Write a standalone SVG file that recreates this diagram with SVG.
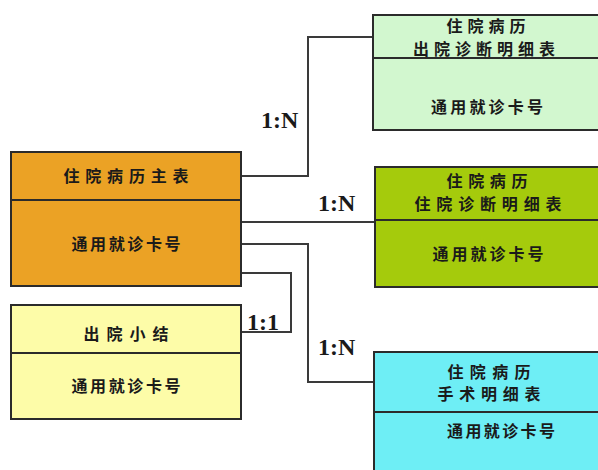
<svg xmlns="http://www.w3.org/2000/svg" width="598" height="470" viewBox="0 0 598 470">
<style>
.box{stroke:#2b2b2b;stroke-width:2}
.div{stroke:#2b2b2b;stroke-width:2}
.t{font-family:"Noto Sans CJK SC","Noto Sans CJK TC",sans-serif;font-weight:bold;font-size:16px;fill:#1a1a1a;text-anchor:middle}
.lab{font-family:"Liberation Serif",serif;font-weight:bold;font-size:24px;fill:#1a1a1a}
.c{fill:none;stroke:#3a3a3a;stroke-width:2}
</style>
<rect width="598" height="470" fill="#ffffff"/>
<g id="connectors">
<polyline class="c" points="241,176 308,176 308,37 373,37"/>
<line class="c" x1="241" y1="222" x2="375" y2="222"/>
<polyline class="c" points="241,244 308,244 308,382 374,382"/>
<polyline class="c" points="241,273 291,273 291,332 241,332"/>
<text class="lab" x="261" y="128">1:N</text>
<text class="lab" x="318" y="211">1:N</text>
<text class="lab" x="247" y="330">1:1</text>
<text class="lab" x="318" y="355">1:N</text>
</g>
<g id="main">
<rect class="box" x="11" y="152" width="230" height="134" fill="#EBA225"/>
<line class="div" x1="11" y1="200" x2="241" y2="200"/>
<text class="t" x="126" y="182" textLength="125">住院病历主表</text>
<text class="t" x="126" y="250" textLength="109">通用就诊卡号</text>
</g>
<g id="summary">
<rect class="box" x="11" y="305" width="230" height="114" fill="#FDFCA8"/>
<line class="div" x1="11" y1="353" x2="241" y2="353"/>
<text class="t" x="126" y="340" textLength="85">出院小结</text>
<text class="t" x="126" y="392" textLength="109">通用就诊卡号</text>
</g>
<g id="discharge-diag">
<rect class="box" x="373" y="15" width="235" height="115" fill="#D2F7CF"/>
<line class="div" x1="373" y1="58" x2="598" y2="58"/>
<text class="t" x="486" y="32" textLength="79">住院病历</text>
<text class="t" x="484" y="55" textLength="142">出院诊断明细表</text>
<text class="t" x="487" y="113" textLength="112">通用就诊卡号</text>
</g>
<g id="inpatient-diag">
<rect class="box" x="375" y="167" width="233" height="120" fill="#A5CB0C"/>
<line class="div" x1="375" y1="220" x2="598" y2="220"/>
<text class="t" x="487" y="187" textLength="81">住院病历</text>
<text class="t" x="488" y="210" textLength="147">住院诊断明细表</text>
<text class="t" x="488" y="260" textLength="111">通用就诊卡号</text>
</g>
<g id="surgery">
<rect class="box" x="374" y="352" width="234" height="130" fill="#6EEEF5"/>
<line class="div" x1="374" y1="412" x2="598" y2="412"/>
<text class="t" x="489" y="378" textLength="83">住院病历</text>
<text class="t" x="489" y="400" textLength="103">手术明细表</text>
<text class="t" x="501" y="437" textLength="108">通用就诊卡号</text>
</g>
</svg>
